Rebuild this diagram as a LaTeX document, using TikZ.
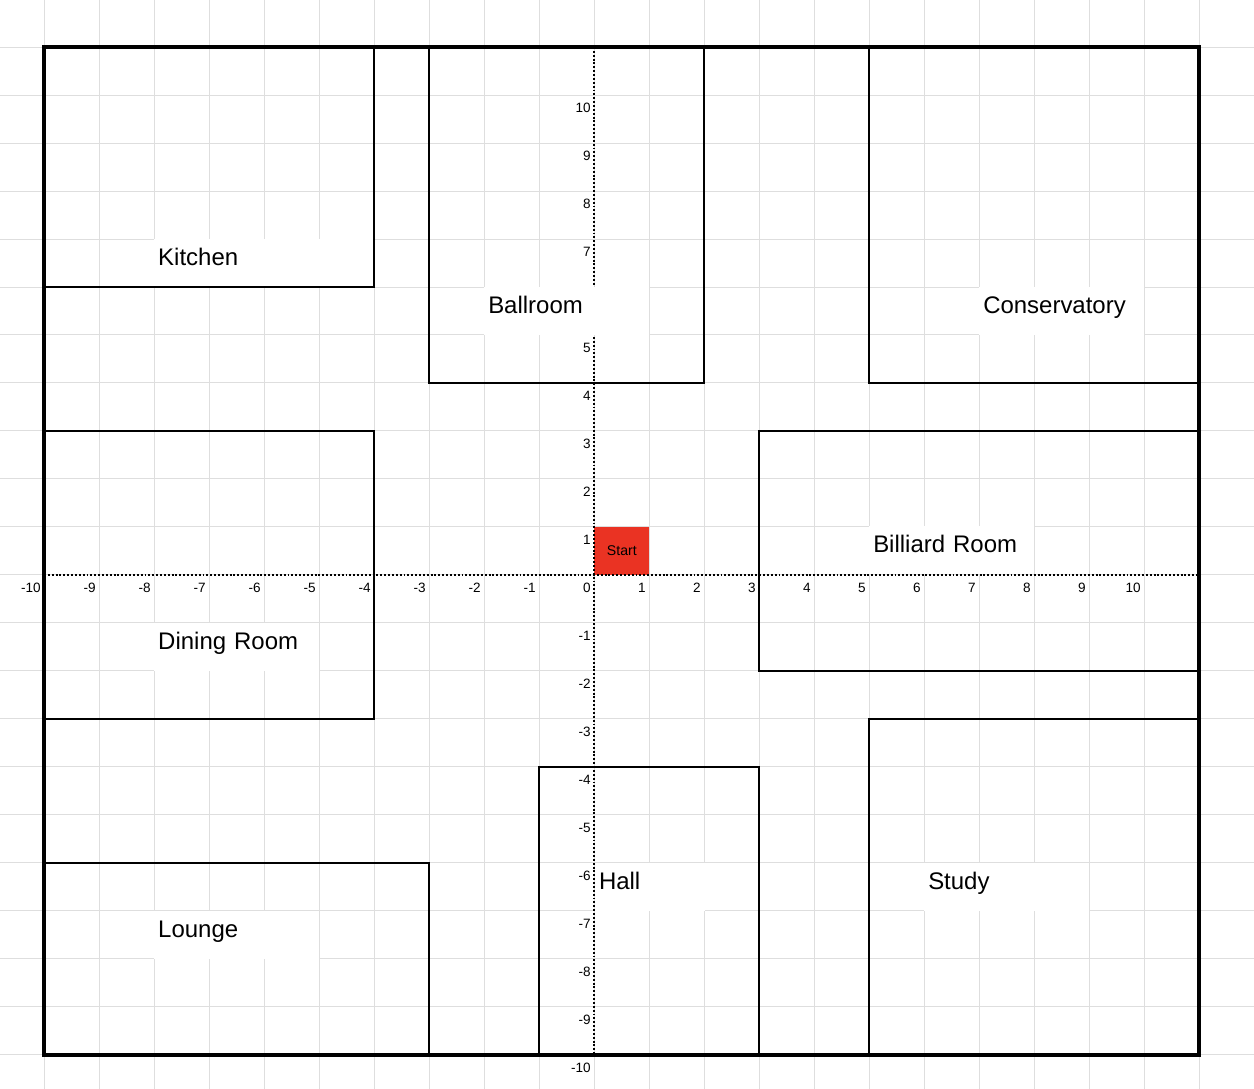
\documentclass[tikz,border=0pt]{standalone}
\usepackage{fontspec}
\setmainfont{Liberation Sans}
\usepackage{tikz}

\definecolor{gridgray}{RGB}{222,222,222}
\definecolor{startred}{RGB}{234,51,35}

\tikzset{
  gridline/.style={gridgray, line width=0.5pt},
  axisline/.style={black, line width=0.6pt, dash pattern=on 1pt off 1pt},
  wall/.style={black, line width=1pt},
  outerwall/.style={black, line width=1.6pt},
  ticklabel/.style={anchor=north east, inner sep=0pt, xshift=-1.5pt, yshift=-3.8pt,
    font=\fontsize{7}{8}\selectfont},
  roomlabel/.style={anchor=south west, fill=white, inner xsep=2pt, inner ysep=0pt,
    text height=13.7pt, text depth=11.1pt, align=left, font=\fontsize{12.4}{14}\selectfont},
  startbox/.style={anchor=south west, fill=startred, inner sep=0pt, minimum width=1cm,
    minimum height=0.8727cm, font=\fontsize{7.3}{8}\selectfont}
}

\begin{document}
\begin{tikzpicture}[x=1cm, y=0.8727cm]
  % Canvas
  \useasboundingbox (-10.8,-10.708) rectangle (12,11.979);
  \fill[white] (-10.8,-10.708) rectangle (12,11.979);

  % Background grid
  \foreach \i in {-10,...,12}
    \draw[gridline] (\i,-10.708) -- (\i,11.979);
  \foreach \j in {-10,...,11}
    \draw[gridline] (-10.8,\j) -- (12,\j);

  % Start square
  \node[startbox] (start) at (0,0) {Start};

  % Axes
  \draw[axisline] (-10,0) -- (11,0);
  \draw[axisline] (0,11) -- (0,-10);

  % Tick labels
  \foreach \k in {-10,...,10}
    \node[ticklabel] (x\k) at (\k,0) {\k};
  \foreach \k in {-10,...,-1,1,2,3,4,5,7,8,9,10}
    \node[ticklabel] (y\k) at (0,\k) {\k};

  % Room names
  \node[roomlabel, text width=3.86cm] (kitchen) at (-8,6) {Kitchen};
  \node[roomlabel, text width=2.86cm] (ballroom) at (-2,5) {Ballroom};
  \node[roomlabel, text width=2.86cm] (conservatory) at (7,5) {Conservatory};
  \node[roomlabel, text width=2.86cm] (dining) at (-8,-2) {Dining Room};
  \node[roomlabel, text width=2.86cm, yshift=0.4pt] (billiard) at (5,0) {Billiard Room};
  \node[roomlabel, text width=2.86cm] (lounge) at (-8,-8) {Lounge};
  \node[roomlabel, text width=1.86cm, xshift=0.4pt] (hall) at (0,-7) {Hall};
  \node[roomlabel, text width=2.86cm] (study) at (6,-7) {Study};

  % Rooms
  \draw[wall] (-10,11) rectangle (-4,6);  % Kitchen
  \draw[wall] (-3,11) rectangle (2,4);    % Ballroom
  \draw[wall] (5,11) rectangle (11,4);    % Conservatory
  \draw[wall] (-10,3) rectangle (-4,-3);  % Dining Room
  \draw[wall] (3,3) rectangle (11,-2);    % Billiard Room
  \draw[wall] (-10,-6) rectangle (-3,-10); % Lounge
  \draw[wall] (-1,-4) rectangle (3,-10);  % Hall
  \draw[wall] (5,-3) rectangle (11,-10);  % Study

  % Outer wall
  \draw[outerwall] (-10,-10) rectangle (11,11);
\end{tikzpicture}
\end{document}
